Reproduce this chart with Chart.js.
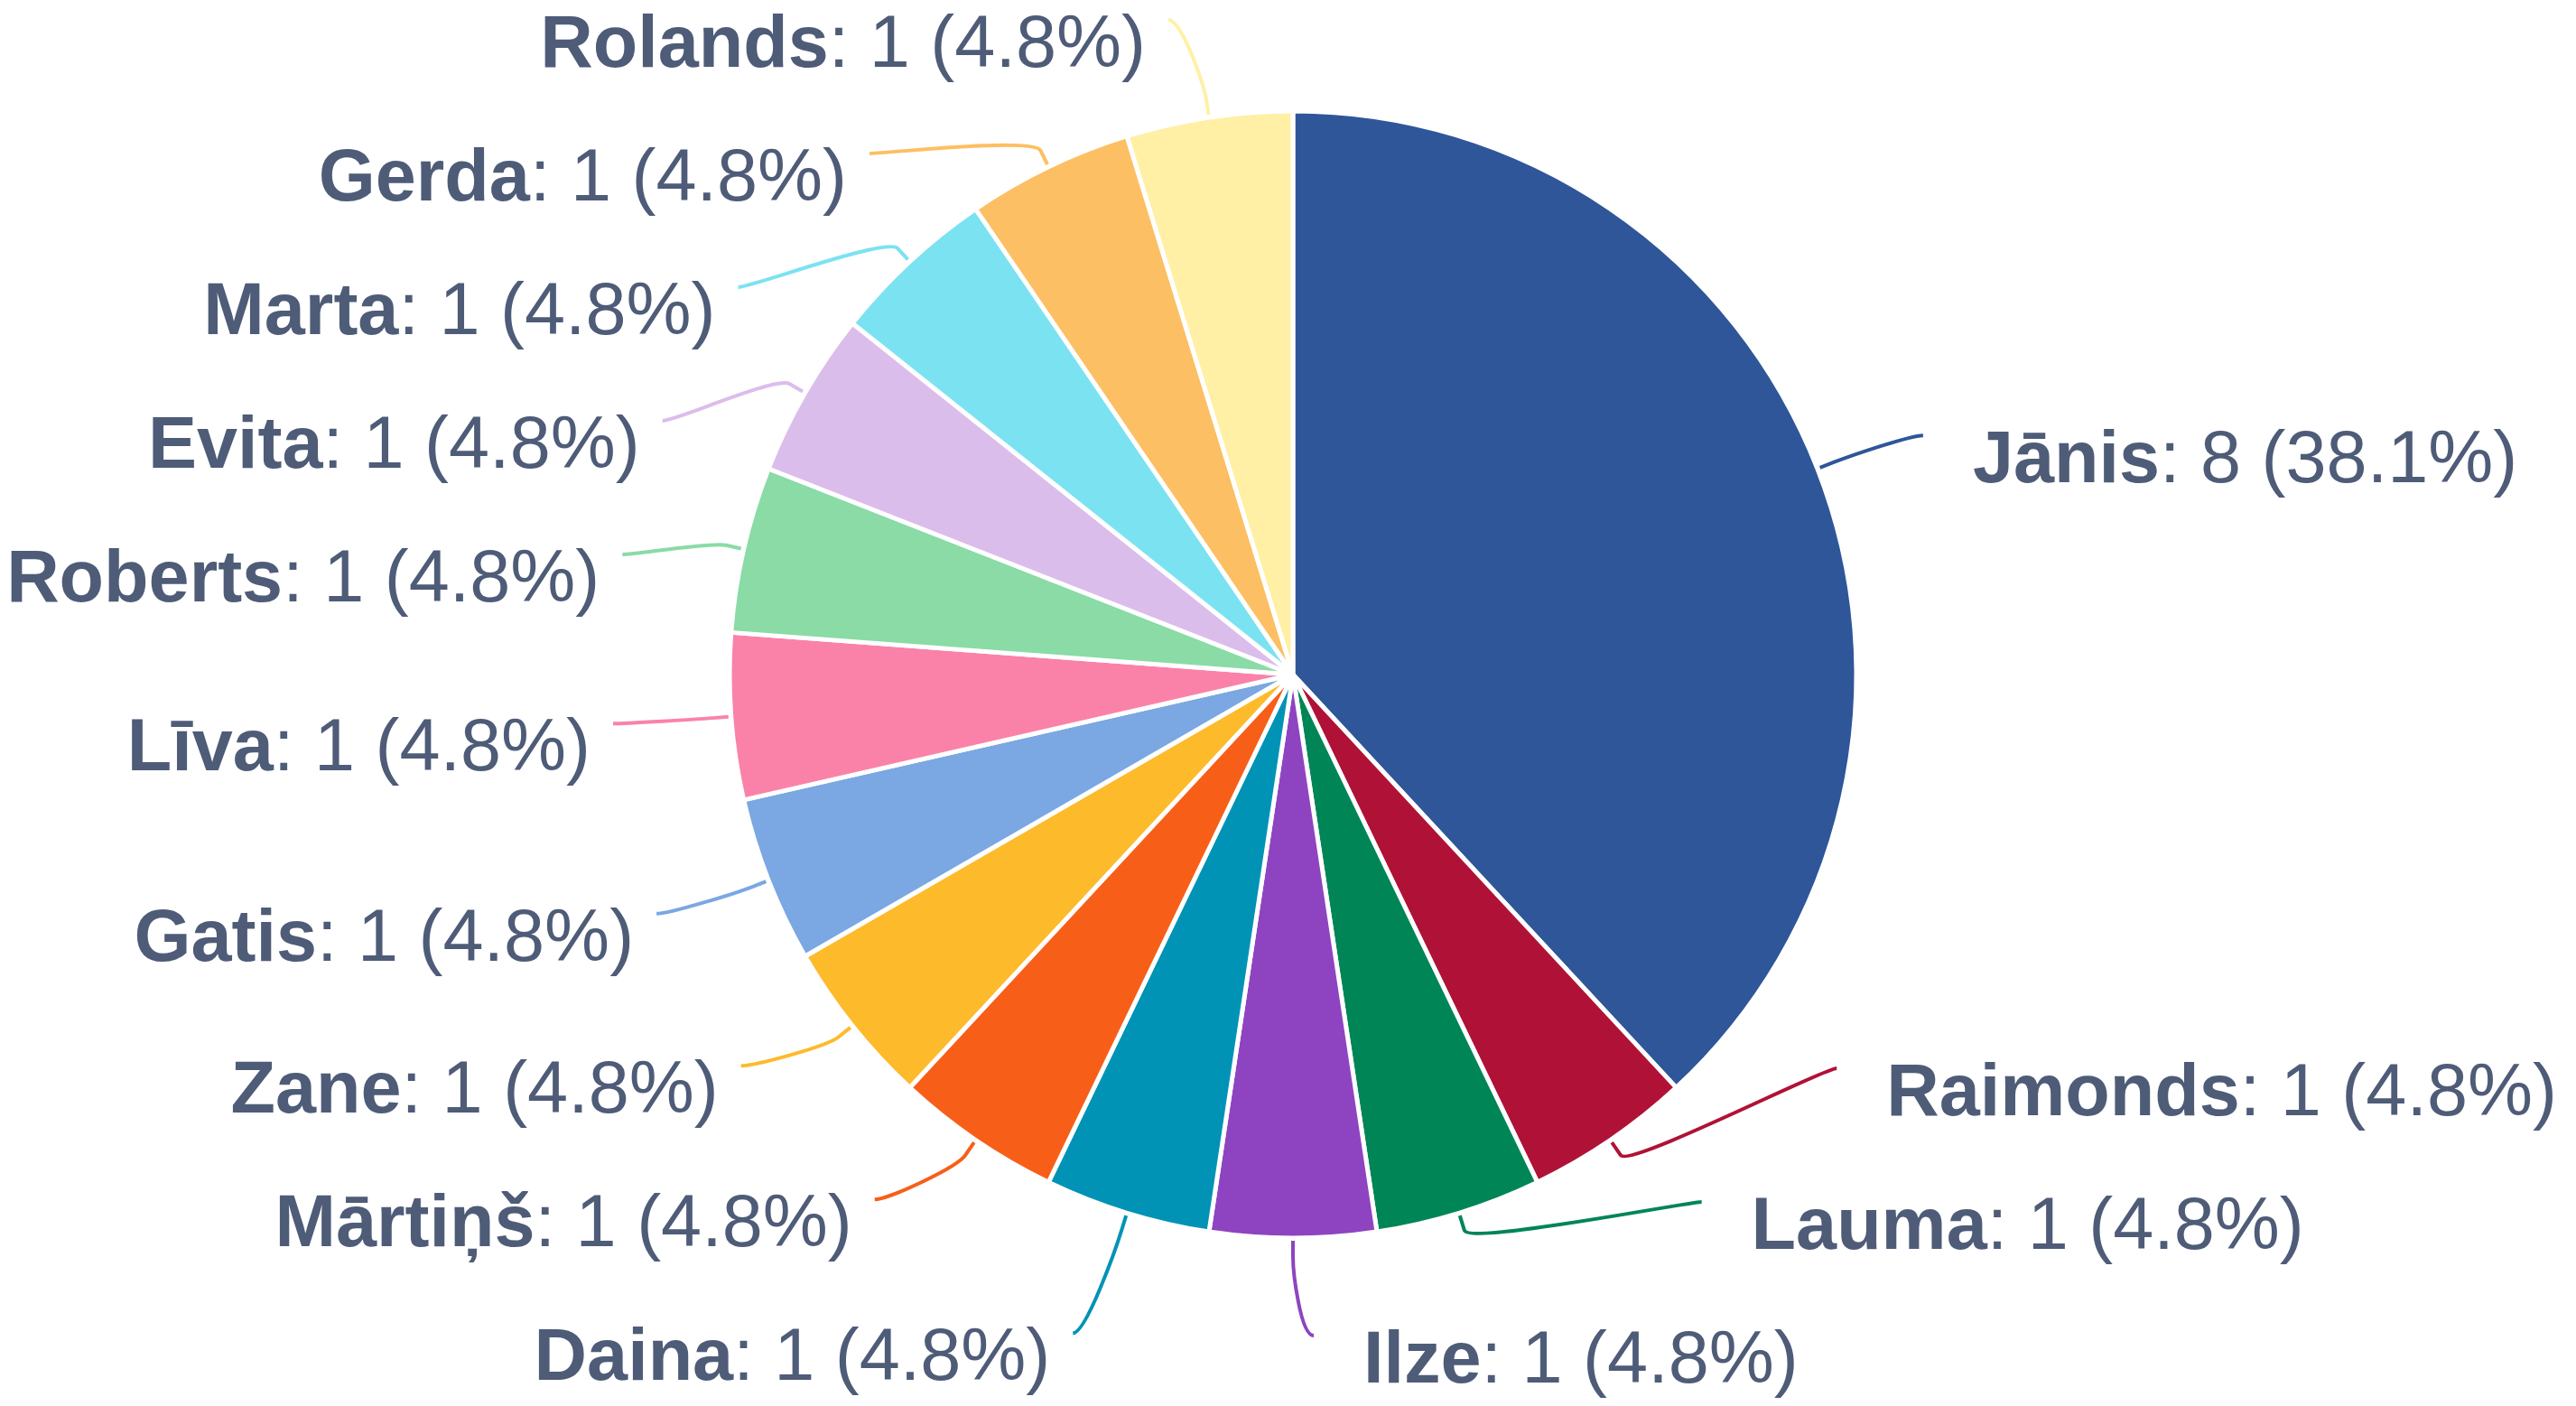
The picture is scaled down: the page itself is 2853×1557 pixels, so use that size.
<!DOCTYPE html>
<html>
<head>
<meta charset="utf-8">
<script src="https://cdn.jsdelivr.net/npm/chart.js@4.4.1/dist/chart.umd.min.js"></script>
<style>
    html, body { margin: 0; padding: 0; background: #fff; }
    #wrap { width: 2853px; height: 1557px; position: relative; }
</style>
</head>
<body>
<div id="wrap"><canvas id="pieChart"></canvas></div>
<script>
// Data
const names = ['Jānis', 'Raimonds', 'Lauma', 'Ilze', 'Daina', 'Mārtiņš', 'Zane', 'Gatis', 'Līva', 'Roberts', 'Evita', 'Marta', 'Gerda', 'Rolands'];
const counts = [8, 1, 1, 1, 1, 1, 1, 1, 1, 1, 1, 1, 1, 1];
const colors = ['#2e5699', '#b01237', '#008556', '#8e44c0', '#0093b5', '#f75f19', '#fdba2b',
                '#7ba7e3', '#fa82a9', '#8adba6', '#dbbdeb', '#7be2f2', '#fdbf63', '#fff0a6'];

const textColor = '#4e5c78';
const fontFamily = '"Liberation Sans", Arial, Helvetica, sans-serif';
const fontSize = 81;

// label layout settings
const labelDistance = 101;
const connectorOffset = 20;
const rowGap = 148;

// push labels apart on one side, keeping them inside minY..maxY
function distribute(list, minY, maxY, gap) {
    let clusters = list.map(it => ({ items: [it], start: 0 }));
    const place = c => {
        const n = c.items.length;
        let s = c.items.reduce((sum, it, k) => sum + it.ny - k * gap, 0) / n;
        s = Math.max(minY, Math.min(s, maxY - (n - 1) * gap));
        c.start = s;
    };
    clusters.forEach(place);
    let changed = true;
    while (changed) {
        changed = false;
        for (let i = 0; i < clusters.length - 1; i++) {
            const a = clusters[i], b = clusters[i + 1];
            if (a.start + a.items.length * gap > b.start) {
                a.items = a.items.concat(b.items);
                clusters.splice(i + 1, 1);
                place(a);
                changed = true;
                break;
            }
        }
    }
    clusters.forEach(c => c.items.forEach((it, k) => { it.y = c.start + k * gap; }));
}

const pieLabels = {
    id: 'pieLabels',
    afterDatasetsDraw(chart) {
        const ctx = chart.ctx;
        const arcs = chart.getDatasetMeta(0).data;
        const total = counts.reduce((a, b) => a + b, 0);
        const cx = arcs[0].x, cy = arcs[0].y, r = arcs[0].outerRadius;
        const R = r + labelDistance;

        const items = arcs.map((arc, i) => {
            const mid = (arc.startAngle + arc.endAngle) / 2;
            const dx = Math.cos(mid), dy = Math.sin(mid);
            return { i, dx, dy, right: dx > -1e-6, ny: cy + R * dy };
        });

        const minY = cy - R, maxY = chart.height - 78;
        [true, false].forEach(side => {
            const list = items.filter(it => it.right === side).sort((a, b) => a.ny - b.ny);
            distribute(list, minY, maxY, rowGap);
        });

        items.forEach(it => {
            const useY = (it.y < minY + 2 || it.y > cy + R - 2) ? it.ny : it.y;
            const off = Math.max(-1, Math.min(1, (useY - cy) / R));
            const half = Math.cos(Math.asin(off)) * R;
            const ex = it.right ? cx + half + 23 : cx - half - 30;
            const ey = it.y;

            // connector
            const tx = cx + it.dx * (r + 3), ty = cy + it.dy * (r + 3);
            const bx = cx + it.dx * (r + connectorOffset), by = cy + it.dy * (r + connectorOffset);
            ctx.save();
            ctx.strokeStyle = colors[it.i];
            ctx.lineWidth = 4;
            ctx.lineCap = 'butt';
            ctx.beginPath();
            ctx.moveTo(ex, ey);
            ctx.bezierCurveTo(ex + (it.right ? -15 : 15), ey, 2 * bx - tx, 2 * by - ty, bx, by);
            ctx.lineTo(tx, ty);
            ctx.stroke();

            // label text
            const name = names[it.i];
            const rest = `: ${counts[it.i]} (${(counts[it.i] / total * 100).toFixed(1)}%)`;
            ctx.fillStyle = textColor;
            ctx.textAlign = 'left';
            ctx.textBaseline = 'alphabetic';
            ctx.font = `bold ${fontSize}px ${fontFamily}`;
            const w1 = ctx.measureText(name).width;
            ctx.font = `${fontSize}px ${fontFamily}`;
            const w2 = ctx.measureText(rest).width;
            const x0 = it.right ? ex + 55 : ex - 25 - w1 - w2;
            ctx.font = `bold ${fontSize}px ${fontFamily}`;
            ctx.fillText(name, x0, ey + 52);
            ctx.font = `${fontSize}px ${fontFamily}`;
            ctx.fillText(rest, x0 + w1, ey + 52);
            ctx.restore();
        });
    }
};

new Chart(document.getElementById('pieChart'), {
    type: 'pie',
    data: {
        labels: names,
        datasets: [{
            data: counts,
            backgroundColor: colors,
            borderColor: '#ffffff',
            borderWidth: 5
        }]
    },
    options: {
        responsive: true,
        maintainAspectRatio: false,
        animation: false,
        radius: 624,
        layout: { padding: { left: 11, right: 0, top: 0, bottom: 63 } },
        plugins: {
            legend: { display: false },
            tooltip: { enabled: false }
        }
    },
    plugins: [pieLabels]
});
</script>
</body>
</html>
